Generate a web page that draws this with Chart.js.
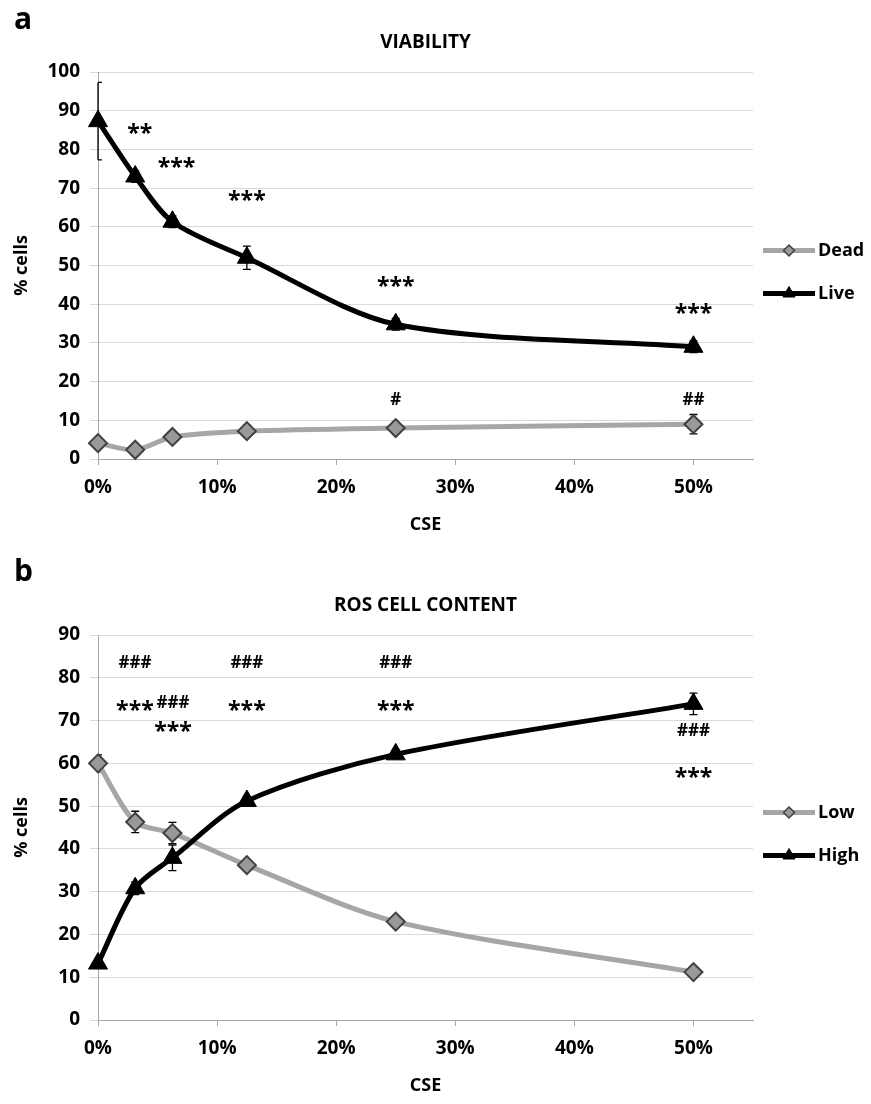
<!DOCTYPE html>
<html>
<head>
<meta charset="utf-8">
<script src="https://cdn.jsdelivr.net/npm/chart.js@4.4.1/dist/chart.umd.min.js"></script>
<style>
  body { margin: 0; background: #fff; }
  .panel { position: relative; width: 871px; height: 552px; }
</style>
</head>
<body>
<div class="panel"><canvas id="viability" width="871" height="552"></canvas></div>
<div class="panel"><canvas id="ros" width="871" height="552"></canvas></div>
<script>
// CSE concentrations (%)
const cse = [0, 3.125, 6.25, 12.5, 25, 50];
const xTicks = [0, 10, 20, 30, 40, 50];

// panel a - viability
const dead = [4.1, 2.4, 5.7, 7.2, 8.0, 9.0];
const deadErr = [1, 0.8, 1, 1.5, 1, 2.5];
const live = [87.3, 73.0, 61.3, 52.0, 34.8, 29.0];
const liveErr = [10, 1.5, 1.5, 3, 1.5, 1.5];
const viabilityTicks = [0, 10, 20, 30, 40, 50, 60, 70, 80, 90, 100];
const viabilityMarks = [
    { x: 3.5, y: 85.5, text: '**' },
    { x: 6.6, y: 76.7, text: '***' },
    { x: 12.5, y: 68, text: '***' },
    { x: 25, y: 46, text: '***' },
    { x: 50, y: 38.8, text: '***' },
    { x: 25, y: 15.2, text: '#' },
    { x: 50, y: 15.2, text: '##' }
];

// panel b - ROS cell content
const low = [60.0, 46.3, 43.7, 36.2, 23.0, 11.2];
const lowErr = [2, 2.5, 2.5, 1, 1, 1];
const high = [13.2, 30.8, 37.9, 51.2, 62.1, 73.9];
const highErr = [1, 1.5, 3, 1, 1, 2.5];
const rosTicks = [0, 10, 20, 30, 40, 50, 60, 70, 80, 90];
const rosMarks = [
    { x: 3.1, y: 83.4, text: '###' },
    { x: 3.1, y: 73.6, text: '***' },
    { x: 6.3, y: 74.0, text: '###' },
    { x: 6.3, y: 68.7, text: '***' },
    { x: 12.5, y: 83.4, text: '###' },
    { x: 12.5, y: 73.6, text: '***' },
    { x: 25, y: 83.4, text: '###' },
    { x: 25, y: 73.6, text: '***' },
    { x: 50, y: 67.5, text: '###' },
    { x: 50, y: 57.9, text: '***' }
];

const FONT = '"Open Sans", Lato, sans-serif';
Chart.defaults.font.family = FONT;
Chart.defaults.color = '#000';

const grayLine = '#a6a6a6';

function series(label, values, errors, dark) {
    return {
        label: label,
        data: cse.map((x, i) => ({ x: x, y: values[i] })),
        errors: errors,
        showLine: true,
        tension: 0.3,
        clip: false,
        borderColor: dark ? '#000' : grayLine,
        borderWidth: 5,
        pointStyle: dark ? 'triangle' : 'rectRot',
        pointRadius: dark ? 11 : 9,
        pointHoverRadius: dark ? 11 : 9,
        pointBackgroundColor: dark ? '#000' : '#999999',
        pointBorderColor: dark ? '#000' : '#404040',
        pointBorderWidth: dark ? 1 : 2,
        order: dark ? 0 : 1,
        dark: dark
    };
}

const errorBars = {
    id: 'errorBars',
    beforeDatasetsDraw(chart) {
        const ctx = chart.ctx;
        const xs = chart.scales.x, ys = chart.scales.y;
        ctx.save();
        ctx.strokeStyle = '#000';
        ctx.lineWidth = 1.3;
        chart.data.datasets.forEach(ds => {
            ds.data.forEach((p, i) => {
                const e = ds.errors[i];
                const px = xs.getPixelForValue(p.x);
                const top = ys.getPixelForValue(p.y + e);
                const bot = ys.getPixelForValue(p.y - e);
                const capL = p.x === 0 ? px : px - 4;
                ctx.beginPath();
                ctx.moveTo(px, top); ctx.lineTo(px, bot);
                ctx.moveTo(capL, top); ctx.lineTo(px + 4, top);
                ctx.moveTo(capL, bot); ctx.lineTo(px + 4, bot);
                ctx.stroke();
            });
        });
        ctx.restore();
    }
};

const decorations = {
    id: 'decorations',
    afterDraw(chart, args, opts) {
        const ctx = chart.ctx;
        const area = chart.chartArea;
        const xs = chart.scales.x, ys = chart.scales.y;
        const midX = (area.left + area.right) / 2;
        const midY = (area.top + area.bottom) / 2;
        ctx.save();
        ctx.fillStyle = '#000';
        ctx.textAlign = 'center';
        ctx.textBaseline = 'middle';

        // significance marks
        opts.marks.forEach(m => {
            const star = m.text.startsWith('*');
            ctx.font = star ? 'bold 23px ' + FONT : 'bold 17px ' + FONT;
            ctx.fillText(m.text, xs.getPixelForValue(m.x), ys.getPixelForValue(m.y) + (star ? 6 : 0));
        });

        // panel letter
        ctx.textAlign = 'left';
        ctx.font = 'bold 30px ' + FONT;
        ctx.fillText(opts.letter, 14, opts.letterY);

        // title
        ctx.textAlign = 'center';
        ctx.font = 'bold 19px ' + FONT;
        ctx.fillText(opts.title, midX, area.top - 29);

        // axis titles
        ctx.font = 'bold 18px ' + FONT;
        ctx.fillText('CSE', midX, area.bottom + 66);
        ctx.save();
        ctx.translate(22, midY);
        ctx.rotate(-Math.PI / 2);
        ctx.fillText('% cells', 0, 0);
        ctx.restore();

        // legend
        const order = [chart.data.datasets.find(d => !d.dark), chart.data.datasets.find(d => d.dark)];
        order.forEach((ds, i) => {
            const y = midY + (i === 0 ? -15 : 28);
            const x0 = area.right + 10;
            ctx.strokeStyle = ds.borderColor;
            ctx.lineWidth = 5;
            ctx.beginPath();
            ctx.moveTo(x0, y); ctx.lineTo(x0 + 52, y);
            ctx.stroke();
            ctx.fillStyle = ds.pointBackgroundColor;
            ctx.strokeStyle = ds.pointBorderColor;
            ctx.lineWidth = ds.dark ? 1 : 1.5;
            Chart.helpers.drawPoint(ctx, {
                pointStyle: ds.pointStyle,
                radius: ds.dark ? 7 : 5.5,
                rotation: 0,
                borderWidth: ds.dark ? 1 : 1.5
            }, x0 + 26, y);
            ctx.fillStyle = '#000';
            ctx.textAlign = 'left';
            ctx.font = 'bold 18px ' + FONT;
            ctx.fillText(ds.label, x0 + 55, y);
        });
        ctx.restore();
    }
};

function makeChart(id, datasets, yTicks, marks, letter, title, padTop, xHeight) {
    return new Chart(document.getElementById(id), {
        type: 'scatter',
        data: { datasets: datasets },
        options: {
            responsive: false,
            animation: false,
            layout: { padding: { left: 0, top: padTop, right: 118, bottom: 0 } },
            plugins: {
                legend: { display: false },
                tooltip: { enabled: false },
                decorations: { marks: marks, letter: letter, letterY: 20, title: title }
            },
            scales: {
                x: {
                    type: 'linear',
                    min: 0,
                    max: 55,
                    afterBuildTicks: s => { s.ticks = xTicks.map(v => ({ value: v })); },
                    afterFit: s => { s.height = xHeight; },
                    ticks: {
                        callback: v => v + '%',
                        font: { size: 19, weight: 'bold' },
                        padding: 11,
                        maxRotation: 0
                    },
                    grid: { drawOnChartArea: false, tickLength: 6, color: grayLine },
                    border: { color: grayLine }
                },
                y: {
                    min: yTicks[0],
                    max: yTicks[yTicks.length - 1],
                    afterBuildTicks: s => { s.ticks = yTicks.map(v => ({ value: v })); },
                    afterFit: s => { s.width = 98; },
                    ticks: {
                        font: { size: 19, weight: 'bold' },
                        padding: 10
                    },
                    grid: { color: '#d9d9d9', tickLength: 8 },
                    border: { color: grayLine }
                }
            }
        },
        plugins: [errorBars, decorations]
    });
}

makeChart('viability',
    [series('Dead', dead, deadErr, false), series('Live', live, liveErr, true)],
    viabilityTicks, viabilityMarks, 'a', 'VIABILITY', 72, 93);

makeChart('ros',
    [series('Low', low, lowErr, false), series('High', high, highErr, true)],
    rosTicks, rosMarks, 'b', 'ROS CELL CONTENT', 83, 84);
</script>
</body>
</html>
